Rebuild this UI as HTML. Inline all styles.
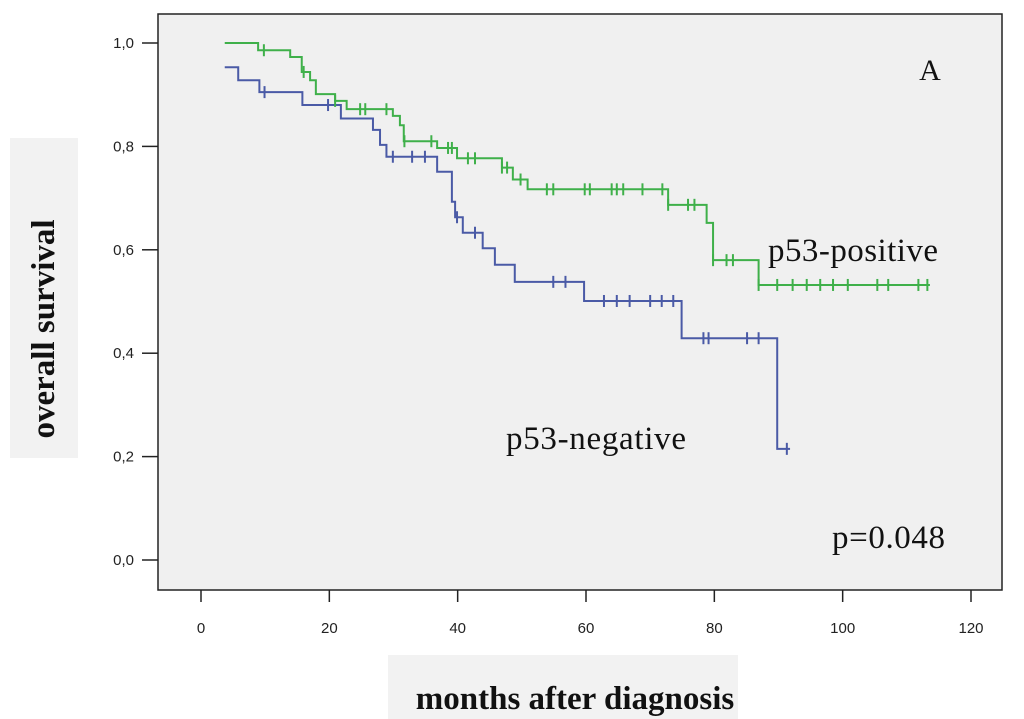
<!DOCTYPE html>
<html><head><meta charset="utf-8">
<style>
body{margin:0;background:#fff;}
svg{display:block;}
.tk{font-family:"Liberation Sans",sans-serif;font-size:15px;fill:#222;}
.sr{font-family:"Liberation Serif",serif;fill:#111;}
</style></head>
<body>
<svg id="chart" width="1024" height="719">
<rect x="388" y="655" width="350" height="64" fill="#f2f2f2"/>
<rect x="10" y="138" width="68" height="320" fill="#f2f2f2"/>
<rect x="158" y="14" width="844" height="576" fill="#f0f0f0" stroke="#222" stroke-width="1.5"/>
<g id="axes"></g>
<g id="series"></g>
<text class="sr" x="930" y="80" font-size="30" text-anchor="middle">A</text>
<text class="sr" x="768" y="261" font-size="33" textLength="170">p53-positive</text>
<text class="sr" x="506" y="449" font-size="33" textLength="180">p53-negative</text>
<text class="sr" x="832" y="548" font-size="33" textLength="113">p=0.048</text>
<text class="sr" x="575" y="709" font-size="33" font-weight="bold" text-anchor="middle">months after diagnosis</text>
<text class="sr" x="0" y="0" font-size="33" font-weight="bold" text-anchor="middle" transform="translate(54,329) rotate(-90)">overall survival</text>
</svg>
<script>
const xTicks=[0,20,40,60,80,100,120];
const yTicks=[0,0.2,0.4,0.6,0.8,1.0];
const yTickLabels=["0,0","0,2","0,4","0,6","0,8","1,0"];
const posTimes=[3.7,8.9,13.9,15.7,17,17.9,20.9,22.7,29.9,31,31.6,36.8,39.9,46.9,48.6,50.9,72.8,78.8,79.8,86.9];
const posSurv=[1.0,0.986,0.973,0.944,0.928,0.901,0.888,0.872,0.859,0.841,0.81,0.797,0.777,0.759,0.736,0.717,0.687,0.652,0.58,0.532];
const posEnd=113.6;
const posCensor=[9.8,16,20.9,24.8,25.6,28.9,31.7,35.9,38.5,39.1,41.6,42.7,46.9,47.7,49.8,53.9,54.9,59.8,60.6,64.0,64.8,65.8,68.8,71.9,72.8,75.9,76.9,79.8,81.9,82.9,86.9,89.8,92.2,94.4,96.5,98.5,100.8,105.4,107.1,111.8,113.2];
const negTimes=[3.7,5.8,9.1,15.8,21.8,26.8,27.9,28.9,36.8,39.1,39.6,40.8,43.9,45.8,48.9,59.7,74.9,89.8];
const negSurv=[0.953,0.928,0.905,0.88,0.854,0.832,0.803,0.78,0.751,0.693,0.663,0.633,0.603,0.571,0.538,0.501,0.429,0.215];
const negEnd=91.8;
const negCensor=[9.9,19.8,29.9,32.9,34.9,39.9,42.7,54.9,56.8,62.8,64.8,66.8,70.0,71.8,73.6,78.3,79.1,85.1,86.9,91.3];

const X=m=>201+m*(770/120);
const Y=s=>560-s*517;
const NS="http://www.w3.org/2000/svg";
function mk(tag,attrs,parent){const e=document.createElementNS(NS,tag);for(const k in attrs)e.setAttribute(k,attrs[k]);parent.appendChild(e);return e;}
const axes=document.getElementById('axes');
xTicks.forEach(v=>{
  const l=mk('line',{x1:X(v),x2:X(v),y1:590,y2:602,stroke:'#222','stroke-width':1.5},axes);
  
  
  const t=mk('text',{x:X(v),y:633,'text-anchor':'middle',class:'tk'},axes);t.textContent=v;
  
  
});
yTicks.forEach((v,i)=>{
  const l=mk('line',{x1:142,x2:158,y1:Y(v),y2:Y(v),stroke:'#222','stroke-width':1.5},axes);
  
  
  const t=mk('text',{x:134,y:Y(v)+5,'text-anchor':'end',class:'tk'},axes);t.textContent=yTickLabels[i];
  
  
});
const series=document.getElementById('series');
function draw(times,surv,end,cens,color,name){
  let d='M'+X(times[0])+','+Y(surv[0]);
  for(let i=1;i<times.length;i++){d+=' H'+X(times[i])+' V'+Y(surv[i]);}
  d+=' H'+X(end);
  const p=mk('path',{d:d,fill:'none',stroke:color,'stroke-width':2},series);
  
  
  cens.forEach(c=>{
    let s=surv[0];
    for(let i=0;i<times.length;i++){if(times[i]<=c)s=surv[i];}
    const l=mk('line',{x1:X(c),x2:X(c),y1:Y(s)-6,y2:Y(s)+6,stroke:color,'stroke-width':2},series);
    
    
  });
}
draw(negTimes,negSurv,negEnd,negCensor,'#4a5aa6','p53-negative');
draw(posTimes,posSurv,posEnd,posCensor,'#3fb04a','p53-positive');
</script>
</body></html>
